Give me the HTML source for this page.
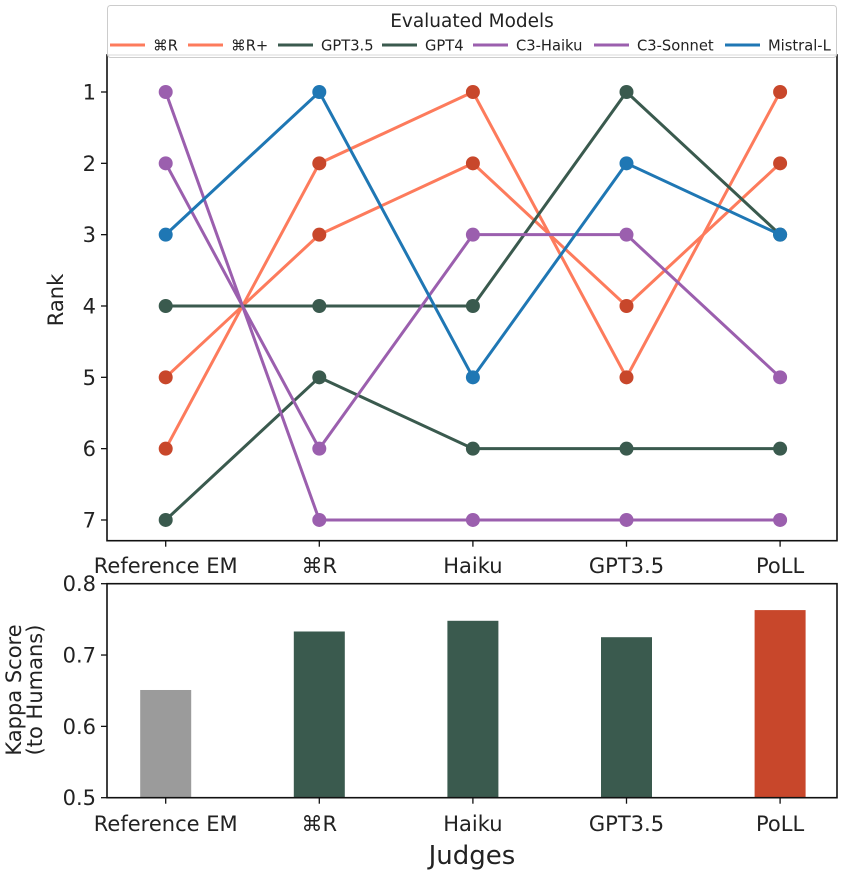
<!DOCTYPE html>
<html><head><meta charset="utf-8"><style>
body{margin:0;background:#fff}
svg text{font-family:"DejaVu Sans","Liberation Sans",sans-serif;fill:#222}
</style></head><body>
<svg id="c" width="842" height="872" xmlns="http://www.w3.org/2000/svg">
<g id="topg"></g><g id="botg"></g><g id="legg"></g>
</svg>
<script>
const judges = ["Reference EM","⌘R","Haiku","GPT3.5","PoLL"];
const models = ["⌘R","⌘R+","GPT3.5","GPT4","C3-Haiku","C3-Sonnet","Mistral-L"];
const rankCmdR = [5,3,2,4,2];
const rankCmdRPlus = [6,2,1,5,1];
const rankGPT35 = [7,5,6,6,6];
const rankGPT4 = [4,4,4,1,3];
const rankHaiku = [1,7,7,7,7];
const rankSonnet = [2,6,3,3,5];
const rankMistral = [3,1,5,2,3];
const rankTicks = [1,2,3,4,5,6,7];
const kappa = [0.651,0.733,0.748,0.725,0.763];
const kappaTicks = [0.5,0.6,0.7,0.8];

const NS="http://www.w3.org/2000/svg";
function mk(p,t,a,txt){const e=document.createElementNS(NS,t);for(const k in a)e.setAttribute(k,a[k]);if(txt!==undefined)e.textContent=txt;p.appendChild(e);return e;}
const X0=107,X1=837,FS=21;
const xPos=i=>165.7+i*153.6;
const yRank=r=>92+(r-1)*71.33;
const yK=v=>797.7-(v-0.5)/0.3*214;

const gTop=document.getElementById('topg');
const series=[
 {n:"cmdr",d:rankCmdR,l:"#fd7b5c",m:"#c8472b"},
 {n:"cmdr-plus",d:rankCmdRPlus,l:"#fd7b5c",m:"#c8472b"},
 {n:"gpt35",d:rankGPT35,l:"#3a5a4e",m:"#3a5a4e"},
 {n:"gpt4",d:rankGPT4,l:"#3a5a4e",m:"#3a5a4e"},
 {n:"c3-haiku",d:rankHaiku,l:"#9b5fae",m:"#9b5fae"},
 {n:"c3-sonnet",d:rankSonnet,l:"#9b5fae",m:"#9b5fae"},
 {n:"mistral-l",d:rankMistral,l:"#1f77b4",m:"#1f77b4"}];
series.forEach(s=>{
 const ln=mk(gTop,'polyline',{points:s.d.map((r,i)=>xPos(i)+','+yRank(r)).join(' '),fill:'none',stroke:s.l,'stroke-width':3});
 
 
 s.d.forEach((r,i)=>{const c=mk(gTop,'circle',{cx:xPos(i),cy:yRank(r),r:7,fill:s.m});
  
  });
});
mk(gTop,'rect',{x:X0,y:55,width:X1-X0,height:485.7,fill:'none',stroke:'#111','stroke-width':1.6});
rankTicks.forEach(r=>{mk(gTop,'line',{x1:X0-6,x2:X0,y1:yRank(r),y2:yRank(r),stroke:'#111','stroke-width':1.3});
 const t=mk(gTop,'text',{x:X0-11,y:yRank(r)+7.5,'text-anchor':'end','font-size':FS},r);
 
 });
judges.forEach((j,i)=>{mk(gTop,'line',{x1:xPos(i),x2:xPos(i),y1:540.7,y2:546.7,stroke:'#111','stroke-width':1.3});
 const t=mk(gTop,'text',{x:xPos(i),y:573,'text-anchor':'middle','font-size':FS},j);
 
 });
const ry=mk(gTop,'text',{x:0,y:0,transform:'translate(63,300) rotate(-90)','text-anchor':'middle','font-size':FS},'Rank');



const gBot=document.getElementById('botg');
const bcol=["#9b9b9b","#3a5a4e","#3a5a4e","#3a5a4e","#c8472b"];
kappa.forEach((v,i)=>{const b=mk(gBot,'rect',{x:xPos(i)-25.5,y:yK(v),width:51,height:797.7-yK(v),fill:bcol[i]});
 
 });
mk(gBot,'rect',{x:X0,y:583.7,width:X1-X0,height:214,fill:'none',stroke:'#111','stroke-width':1.6});
kappaTicks.forEach(v=>{mk(gBot,'line',{x1:X0-6,x2:X0,y1:yK(v),y2:yK(v),stroke:'#111','stroke-width':1.3});
 const t=mk(gBot,'text',{x:X0-11,y:yK(v)+7.5,'text-anchor':'end','font-size':FS},v.toFixed(1));
 
 });
judges.forEach((j,i)=>{mk(gBot,'line',{x1:xPos(i),x2:xPos(i),y1:797.7,y2:803.7,stroke:'#111','stroke-width':1.3});
 const t=mk(gBot,'text',{x:xPos(i),y:831,'text-anchor':'middle','font-size':FS},j);
 
 });
const ky=mk(gBot,'text',{transform:'translate(21,690) rotate(-90)','text-anchor':'middle','font-size':FS},'Kappa Score');


const ky2=mk(gBot,'text',{transform:'translate(42,690) rotate(-90)','text-anchor':'middle','font-size':FS},'(to Humans)');


const jt=mk(gBot,'text',{x:472,y:864,'text-anchor':'middle','font-size':26},'Judges');



const gLeg=document.getElementById('legg');
const lb=mk(gLeg,'rect',{x:107.5,y:5.5,width:729,height:52,rx:3,fill:'#fff','fill-opacity':0.9,stroke:'#ccc','stroke-width':1});


const lt=mk(gLeg,'text',{x:472,y:27,'text-anchor':'middle','font-size':18.5},'Evaluated Models');


const lx=[110,188,278,382,473,594,725];
models.forEach((m,i)=>{mk(gLeg,'line',{x1:lx[i],x2:lx[i]+35,y1:45,y2:45,stroke:series[i].l,'stroke-width':3});
 const t=mk(gLeg,'text',{x:lx[i]+43,y:50.5,'font-size':14.7},m);
 
 });
</script>
</body></html>
